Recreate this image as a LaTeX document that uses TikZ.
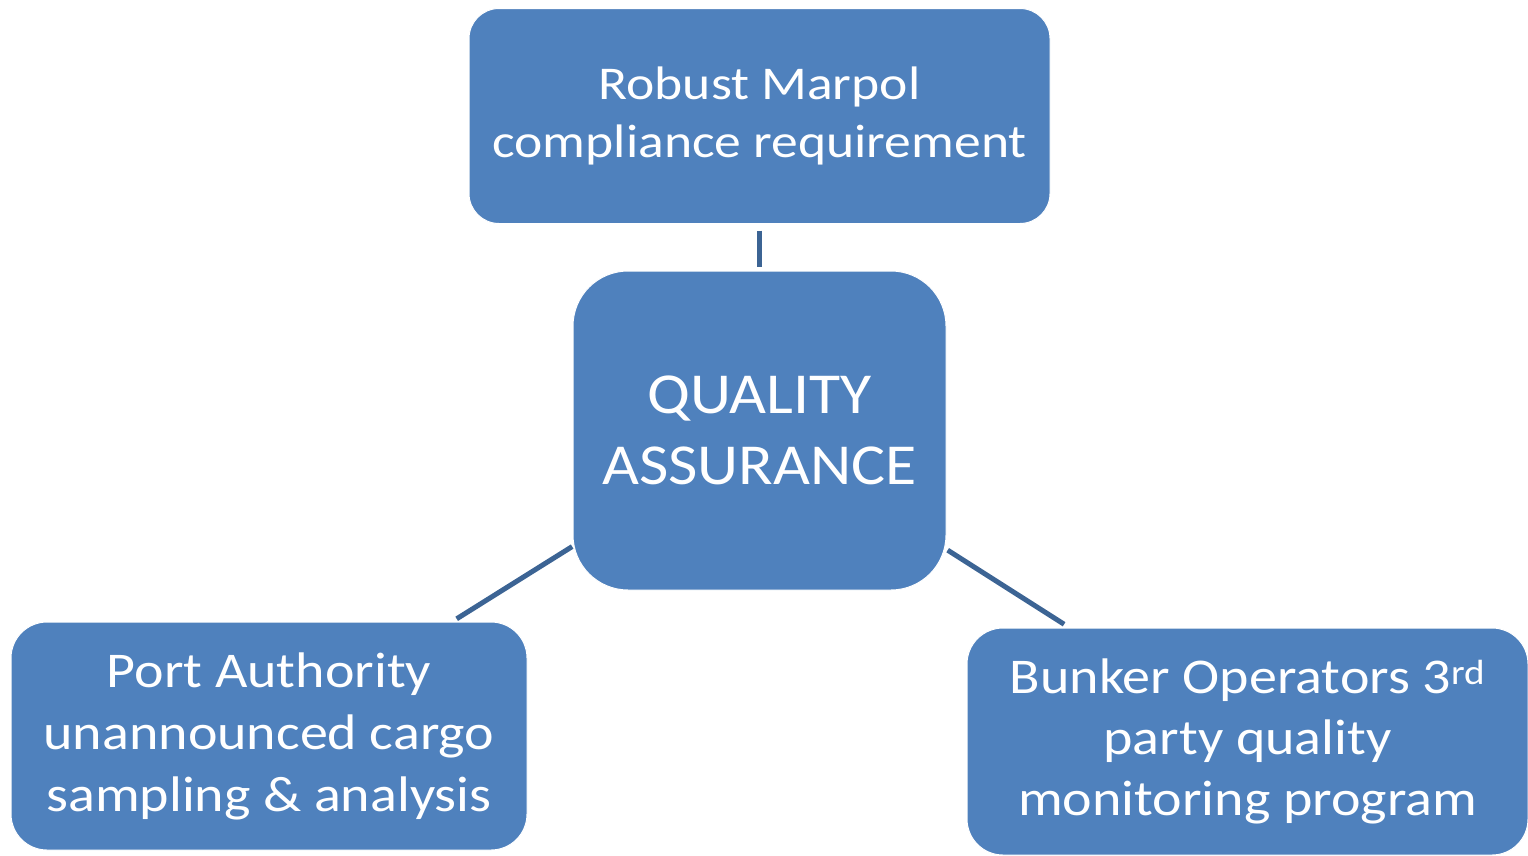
\documentclass[tikz,border=0pt]{standalone}
\usepackage{fontspec}
\setmainfont[FakeStretch=1.12]{Carlito}
\newfontfamily\topfont[FakeStretch=1.14]{Carlito}
\newfontfamily\qafont[FakeStretch=1.10]{Carlito}
\definecolor{boxblue}{HTML}{4F81BD}
\definecolor{linkblue}{HTML}{3C6494}
\begin{document}
\begin{tikzpicture}[x=1pt,y=-1pt,
  qbox/.style={draw=white,line width=1pt,fill=boxblue,text=white,align=center,inner sep=0pt,outer sep=0pt},
  conn/.style={draw=linkblue,line width=5pt}]
\useasboundingbox[fill=white] (0,0) rectangle (1528,855);
\node[qbox,minimum width=581pt,minimum height=215pt,rounded corners=30pt,font=\topfont\fontsize{47}{58}\selectfont] (top) at (759.5,116) {Robust Marpol\\compliance requirement};
\node[qbox,minimum width=373pt,minimum height=319pt,rounded corners=55pt,font=\qafont\fontsize{58}{71}\selectfont] (qa) at (759.5,430.5) {QUALITY\\ASSURANCE};
\node[qbox,minimum width=516pt,minimum height=228pt,rounded corners=36pt,font=\fontsize{50}{62}\selectfont] (bl) at (269,736) {Port Authority\\unannounced cargo\\sampling \& analysis};
\node[qbox,minimum width=561pt,minimum height=227pt,rounded corners=36pt,font=\fontsize{50}{61}\selectfont] (br) at (1247.5,741.5) {Bunker Operators 3\textsuperscript{rd}\\party quality\\monitoring program};
\draw[conn,shorten <=7pt,shorten >=4pt] (top) -- (qa);
\draw[conn,shorten <=1pt,shorten >=6pt] (qa) -- (bl);
\draw[conn,shorten <=2pt,shorten >=7pt] (qa) -- (br);
\end{tikzpicture}
\end{document}
